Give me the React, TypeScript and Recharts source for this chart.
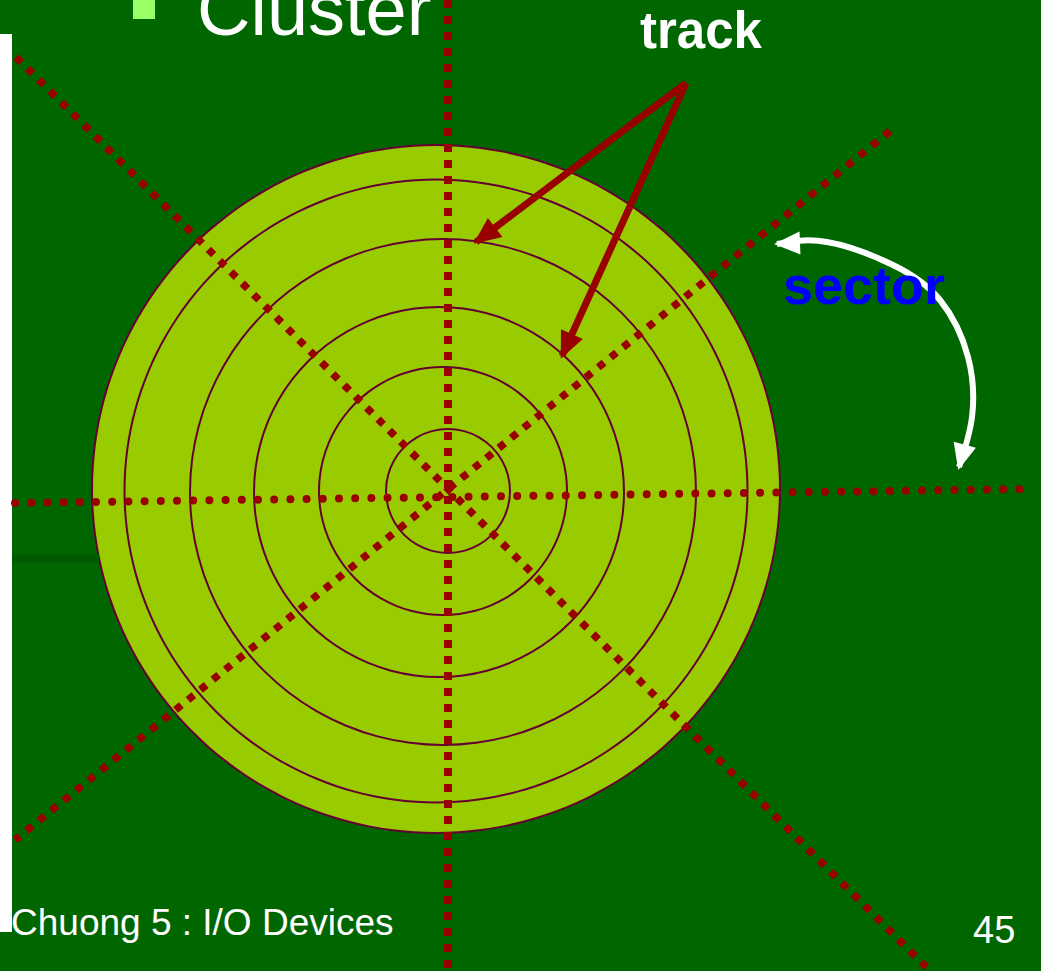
import React from "react";
import {
  ComposedChart,
  Line,
  XAxis,
  YAxis,
  ReferenceArea,
  ReferenceDot,
  PieChart,
  Pie,
} from "recharts";

const W = 1041;
const H = 971;
const FONT = "'Liberation Sans', Arial, Helvetica, sans-serif";

// tracks: centre and radius of every ring, rim first
const trackCx = [436, 436, 443, 439, 443, 448];
const trackCy = [489, 491, 492, 492, 491, 491];
const trackR = [344, 311.5, 253, 185, 124, 62];
const fullTurn = [{ value: 1 }];

// sector boundaries (dotted)
const sectorH = [
  { x: 15, y: 503 },
  { x: 1030, y: 489 },
];
const sectorV = [
  { x: 448, y: 0 },
  { x: 448, y: 971 },
];
const sectorD1 = [
  { x: 16, y: 57 },
  { x: 930, y: 971 },
];
const sectorD2 = [
  { x: 890, y: 131 },
  { x: 15, y: 840 },
];

// pointers from the "track" label
const trackArrowA = [
  { x: 686, y: 83 },
  { x: 476, y: 242, head: true },
];
const trackArrowB = [
  { x: 686, y: 83 },
  { x: 562, y: 356, head: true },
];

// the curved "sector" sweep, arrow at both ends
const sectorSweep = [
  { x: 777, y: 244, head: true },
  { x: 827, y: 242 },
  { x: 893, y: 265 },
  { x: 940, y: 300 },
  { x: 968, y: 357 },
  { x: 972, y: 417 },
  { x: 959, y: 467, head: true },
];

function arrowDot(len: number, half: number, color: string) {
  return (p: any) => {
    const { cx, cy, index, points, payload } = p;
    if (!payload || !payload.head || !points || points.length < 2) {
      return <g key={`d-${index}`} />;
    }
    const nb = index === 0 ? points[1] : points[index - 1];
    const dx = cx - nb.x;
    const dy = cy - nb.y;
    const d = Math.hypot(dx, dy) || 1;
    const ux = dx / d;
    const uy = dy / d;
    const tx = cx + ux * 3;
    const ty = cy + uy * 3;
    const bx = cx - ux * len;
    const by = cy - uy * len;
    const pts = `${tx},${ty} ${bx - uy * half},${by + ux * half} ${bx + uy * half},${by - ux * half}`;
    return <polygon key={`d-${index}`} points={pts} fill={color} />;
  };
}

function textShape(text: string, size: number, weight: string, color: string) {
  return (p: any) => (
    <text
      x={p.cx}
      y={p.cy}
      fontSize={size}
      fontWeight={weight}
      fill={color}
      fontFamily={FONT}
    >
      {text}
    </text>
  );
}

export default function App() {
  return (
    <div
      style={{
        position: "absolute",
        top: 0,
        left: 0,
        width: W,
        height: H,
        overflow: "hidden",
        background: "#006600",
      }}
    >
      <div style={{ position: "absolute", top: 0, left: 0 }}>
        <PieChart width={W} height={H} margin={{ top: 0, right: 0, bottom: 0, left: 0 }}>
          <Pie
            data={fullTurn}
            dataKey="value"
            cx={trackCx[0]}
            cy={trackCy[0]}
            innerRadius={0}
            outerRadius={trackR[0]}
            startAngle={90}
            endAngle={-270}
            fill="#99cc00"
            stroke="none"
            isAnimationActive={false}
          />
          {trackR.map((r, i) => (
            <Pie
              key={i}
              data={fullTurn}
              dataKey="value"
              cx={trackCx[i]}
              cy={trackCy[i]}
              innerRadius={r - 1}
              outerRadius={r + 1}
              startAngle={90}
              endAngle={-270}
              fill="#660033"
              stroke="none"
              isAnimationActive={false}
            />
          ))}
        </PieChart>
      </div>
      <div style={{ position: "absolute", top: 0, left: 0 }}>
        <ComposedChart width={W} height={H} margin={{ top: 0, right: 0, bottom: 0, left: 0 }}>
          <XAxis type="number" dataKey="x" domain={[0, W]} allowDataOverflow hide />
          <YAxis type="number" domain={[0, H]} reversed allowDataOverflow hide />
          <ReferenceArea x1={0} x2={12} y1={34} y2={932} fill="#ffffff" fillOpacity={1} stroke="none" />
          <ReferenceArea x1={12} x2={99} y1={554} y2={563} fill="#005a00" fillOpacity={1} stroke="none" />
          <ReferenceArea x1={133} x2={155} y1={0} y2={19} fill="#99ff66" fillOpacity={1} stroke="none" />

          <Line data={sectorH} dataKey="y" type="linear" stroke="#990000" strokeWidth={8}
            strokeLinecap="round" strokeDasharray="0 16.2" dot={false} activeDot={false} isAnimationActive={false} />
          <Line data={sectorD1} dataKey="y" type="linear" stroke="#990000" strokeWidth={7.5}
            strokeDasharray="7.5 8.5" dot={false} activeDot={false} isAnimationActive={false} />
          <Line data={sectorD2} dataKey="y" type="linear" stroke="#990000" strokeWidth={7.5}
            strokeDasharray="7.5 8.5" dot={false} activeDot={false} isAnimationActive={false} />
          <Line data={sectorV} dataKey="y" type="linear" stroke="#990000" strokeWidth={8}
            strokeDasharray="8 8" dot={false} activeDot={false} isAnimationActive={false} />

          <Line data={trackArrowA} dataKey="y" type="linear" stroke="#990000" strokeWidth={7}
            dot={arrowDot(24, 12, "#990000")} activeDot={false} isAnimationActive={false} />
          <Line data={trackArrowB} dataKey="y" type="linear" stroke="#990000" strokeWidth={7}
            dot={arrowDot(24, 12, "#990000")} activeDot={false} isAnimationActive={false} />
          <Line data={sectorSweep} dataKey="y" type="natural" stroke="#ffffff" strokeWidth={6}
            dot={arrowDot(23, 11.5, "#ffffff")} activeDot={false} isAnimationActive={false} />

          <ReferenceDot x={197} y={35} r={0} shape={textShape("Cluster", 74, "normal", "#ffffff")} />
          <ReferenceDot x={640} y={48} r={0} shape={textShape("track", 51, "bold", "#ffffff")} />
          <ReferenceDot x={783} y={304} r={0} shape={textShape("sector", 54, "bold", "#0000ff")} />
          <ReferenceDot x={11} y={935} r={0} shape={textShape("Chuong 5 : I/O Devices", 37, "normal", "#ffffff")} />
          <ReferenceDot x={973} y={943} r={0} shape={textShape("45", 38, "normal", "#ffffff")} />
        </ComposedChart>
      </div>
    </div>
  );
}
